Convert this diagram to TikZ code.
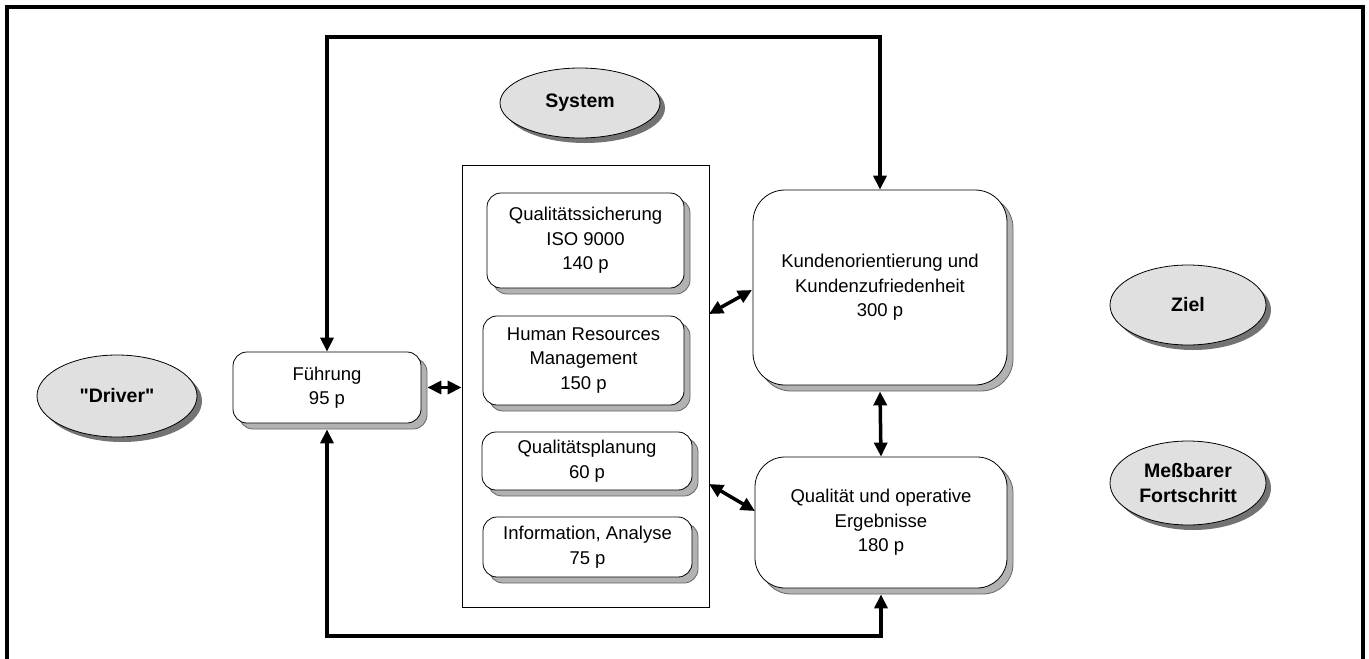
\documentclass[tikz,border=0pt]{standalone}
\usepackage{fontspec}
\setmainfont{Liberation Sans}
\usetikzlibrary{arrows.meta,shadows,shapes.geometric}
\begin{document}
\begin{tikzpicture}[x=1pt,y=-1pt,
  txt/.style={font=\fontsize{18.5}{24.5}\selectfont},
  box/.style={draw=black, line width=0.8pt, fill=white, rounded corners=#1, align=center,
    inner sep=0pt, txt,
    drop shadow={shadow xshift=6pt, shadow yshift=-6pt, fill=black!30, draw=black!60, opacity=1}},
  box/.default=14pt,
  oval/.style={ellipse, draw=black, line width=0.8pt, fill=black!12, inner sep=0pt,
    align=center, font=\fontsize{19.5}{25}\selectfont\bfseries,
    drop shadow={shadow xshift=5pt, shadow yshift=-5pt, fill=black!55, opacity=1}},
  frameline/.style={line width=3.5pt, line cap=rect},
  loopline/.style={line width=3.5pt, line join=miter},
  dbl/.style={line width=3.5pt, {Triangle[length=14pt,width=13pt]}-{Triangle[length=14pt,width=13pt]}},
]
\useasboundingbox (0,0) rectangle (1369,659);
% outer frame
\coordinate (fbl) at (7,662);
\coordinate (ftl) at (7,7);
\coordinate (ftr) at (1363,7);
\coordinate (fbr) at (1363,662);
\draw[frameline] (fbl) -- (ftl) -- (ftr) -- (fbr);

% ellipses
\node[oval, minimum width=160pt, minimum height=82pt] (driver) at (117,396) {\textquotedbl Driver\textquotedbl};
\node[oval, minimum width=160pt, minimum height=70pt] (system) at (580,103) {System};
\node[oval, minimum width=156pt, minimum height=80pt] (ziel) at (1188,305) {Ziel};
\node[oval, minimum width=156pt, minimum height=84pt] (mess) at (1188,483) {Meßbarer\\Fortschritt};

% container
\node[draw=black, line width=0.8pt, minimum width=247pt, minimum height=442pt, inner sep=0pt] (sys) at (585.5,386) {};

% boxes
\node[box, minimum width=188pt, minimum height=71pt] (fuehrung) at (327,387.5) {Führung\\95 p};
\node[box, minimum width=197pt, minimum height=95pt] (qs) at (585.5,240.5) {Qualitätssicherung\\ISO 9000\\140 p};
\node[box, minimum width=201pt, minimum height=89pt] (hr) at (583.5,360.5) {Human Resources\\Management\\150 p};
\node[box, minimum width=210pt, minimum height=58pt] (qp) at (587,461) {Qualitätsplanung\\60 p};
\node[box, minimum width=209pt, minimum height=60pt] (info) at (587.5,547) {Information, Analyse\\75 p};
\node[box=32pt, minimum width=254pt, minimum height=195pt] (kunden) at (880,287.5) {Kundenorientierung und\\Kundenzufriedenheit\\300 p};
\node[box=30pt, minimum width=252pt, minimum height=131pt] (qual) at (881,522.5) {Qualität und operative\\Ergebnisse\\180 p};

% loop
\coordinate (top) at (0,37);
\coordinate (bot) at (0,636);
\draw[loopline, {Triangle[length=14pt,width=13pt]}-{Triangle[length=14pt,width=13pt]}]
  (fuehrung.north) -- (fuehrung.north |- top) -| (kunden.north);
\draw[loopline, {Triangle[length=14pt,width=13pt]}-{Triangle[length=14pt,width=13pt]}]
  ([yshift=-6pt]fuehrung.south) -- (fuehrung.south |- bot) -| ([yshift=-6pt]qual.south);

% double arrows
\draw[dbl] ([xshift=6pt]fuehrung.east) -- (sys.west |- fuehrung.east);
\coordinate (s1) at (709,314);
\coordinate (k1) at (752,290);
\draw[dbl] (s1) -- (k1);
\coordinate (s2) at (709,484);
\coordinate (q2) at (755,511);
\draw[dbl] (s2) -- (q2);
\draw[dbl] ([yshift=-6pt]kunden.south) -- (qual.north);
\end{tikzpicture}
\end{document}
